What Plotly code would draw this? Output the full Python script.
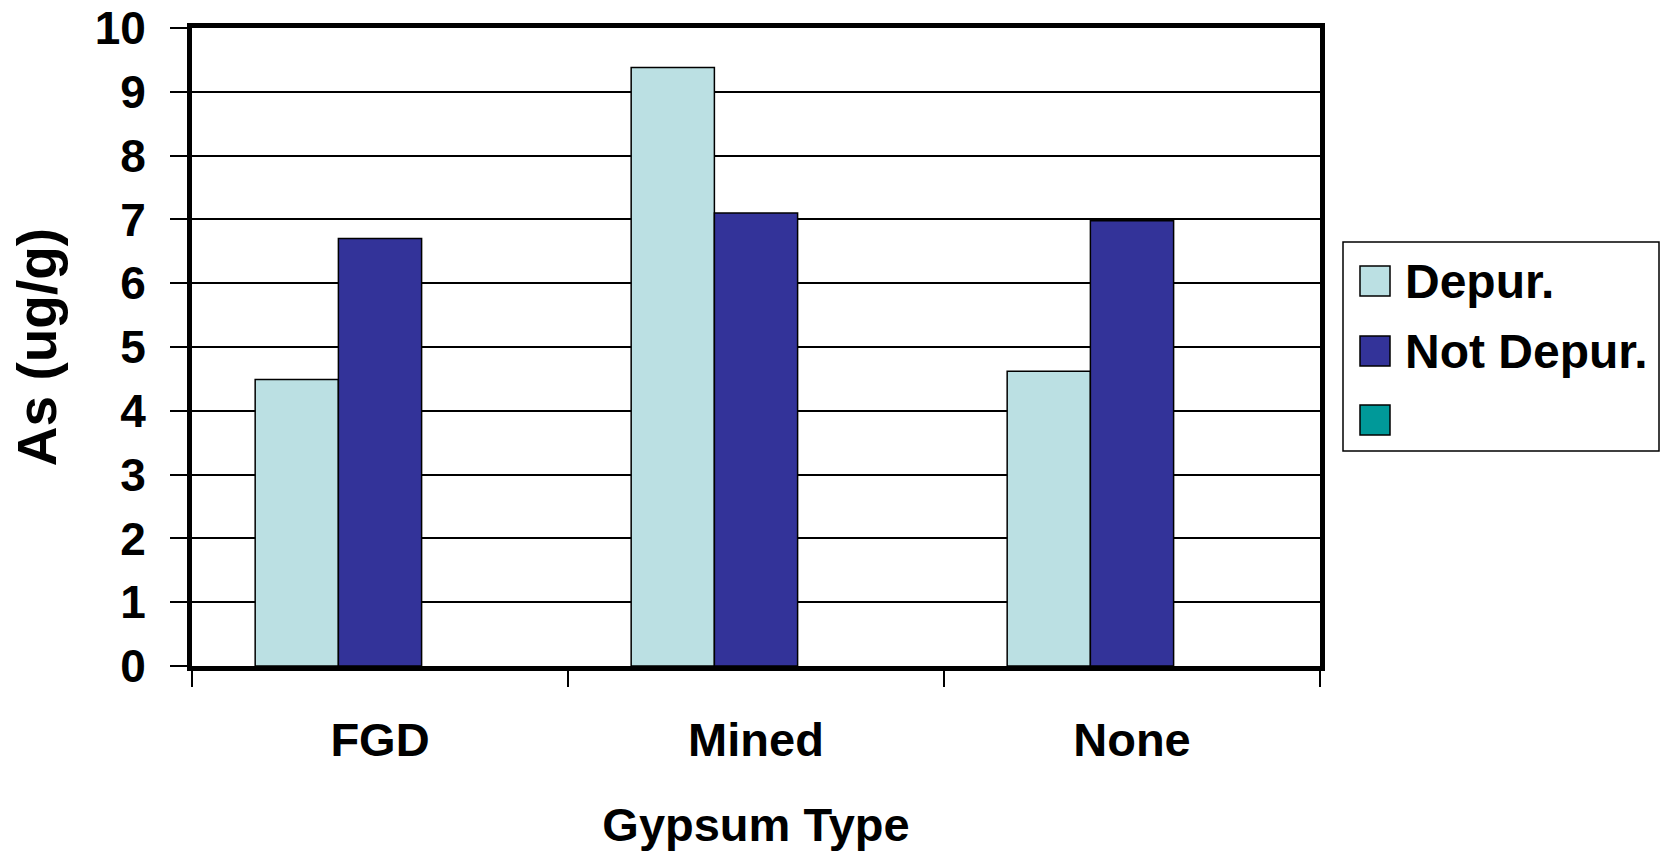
import plotly.graph_objects as go

categories = ["FGD", "Mined", "None"]
series_names = ["Depur.", "Not Depur.", ""]
depur = [4.49, 9.38, 4.62]
not_depur = [6.70, 7.10, 6.98]
third = [None, None, None]
colors = ["#BBE0E3", "#333399", "#009999"]
y_ticks = list(range(0, 11))

W, H = 1663, 856
L, R, T, B = 192, 343, 28, 190
PW, PH = W - L - R, H - T - B

FONT = dict(family="Arial, Liberation Sans, sans-serif", color="black", weight="bold")

fig = go.Figure()
for name, vals, col in zip(series_names, [depur, not_depur, third], colors):
    fig.add_trace(go.Bar(
        x=categories, y=vals, name=name, showlegend=False,
        marker=dict(color=col, line=dict(color="black", width=1.5)),
    ))

def px_x(p):
    return (p - L) / PW

def px_y(p):
    return 1 - (p - T) / PH

shapes = []
annotations = []
# legend box
shapes.append(dict(type="rect", xref="paper", yref="paper",
                   x0=px_x(1343), x1=px_x(1659), y0=px_y(451), y1=px_y(242),
                   line=dict(color="black", width=1.5), fillcolor="white"))
centers = [281, 351, 420]
for name, col, cy in zip(series_names, colors, centers):
    shapes.append(dict(type="rect", xref="paper", yref="paper",
                       x0=px_x(1360), x1=px_x(1390), y0=px_y(cy + 15), y1=px_y(cy - 15),
                       line=dict(color="black", width=1.5), fillcolor=col))
    if name:
        annotations.append(dict(text=name, xref="paper", yref="paper",
                                x=px_x(1403), y=px_y(cy), xanchor="left", yanchor="middle",
                                showarrow=False, font=dict(FONT, size=48)))

fig.update_layout(
    width=W, height=H,
    margin=dict(l=L, r=R, t=T, b=B, autoexpand=False),
    paper_bgcolor="white", plot_bgcolor="white",
    barmode="group", bargap=0.336, bargroupgap=0,
    font=FONT,
    shapes=shapes, annotations=annotations,
    showlegend=False,
)
fig.update_xaxes(
    type="category", range=[-0.5, 2.5],
    showline=True, linecolor="black", linewidth=5, mirror=True,
    showgrid=False, zeroline=False,
    tickson="boundaries", ticks="outside", ticklen=16, tickwidth=2, tickcolor="black",
    tickfont=dict(FONT, size=47), ticklabelstandoff=29,
    title=dict(text="Gypsum Type", font=dict(FONT, size=47), standoff=44),
    automargin=False,
)
fig.update_yaxes(
    range=[0, 10], tickvals=y_ticks,
    showline=True, linecolor="black", linewidth=5, mirror=True,
    showgrid=True, gridcolor="black", gridwidth=2, zeroline=False,
    ticks="outside", ticklen=17, tickwidth=2, tickcolor="black",
    tickfont=dict(FONT, size=46), ticklabelstandoff=15,
    title=dict(text="As (ug/g)", font=dict(FONT, size=55), standoff=22),
    automargin=False,
)

fig.write_html("out.html",
               config={"displayModeBar": False},
               post_script="document.body.style.margin='0px';document.body.style.overflow='hidden';")
